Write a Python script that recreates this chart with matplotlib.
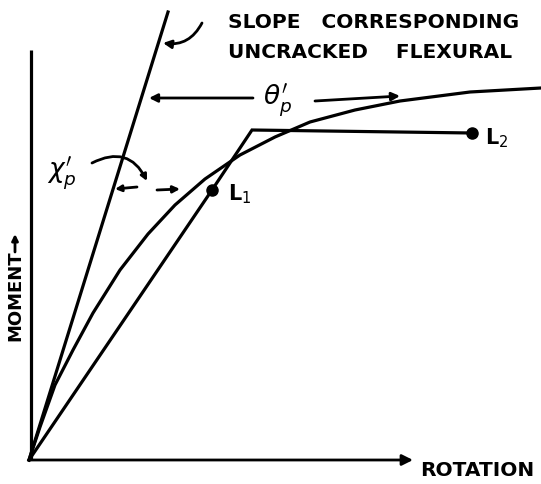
import numpy as np
import matplotlib.pyplot as plt
from matplotlib.patches import FancyArrowPatch

# rotation / moment in arbitrary units (sketch)
steep_rot = [0.0, 1.39]
steep_mom = [0.0, 4.48]

curve_rot = [0.0, 0.11, 0.26, 0.44, 0.64, 0.91, 1.19, 1.46, 1.76, 2.11,
             2.46, 2.81, 3.26, 3.71, 4.41, 5.12]
curve_mom = [0.0, 0.33, 0.75, 1.10, 1.47, 1.90, 2.26, 2.55, 2.81, 3.05,
             3.23, 3.38, 3.50, 3.59, 3.68, 3.72]

bilin_rot = [0.0, 1.83, 2.23, 4.43]
bilin_mom = [0.0, 2.70, 3.30, 3.27]

points_rot = [1.83, 4.43]
points_mom = [2.70, 3.27]
point_labels = ["L$_1$", "L$_2$"]

INK = "black"
LW = 2.3
FONT = dict(fontfamily="DejaVu Sans", fontweight="bold", color=INK)


def arrow(ax, start, end, rad=0.0, head=12):
    a = FancyArrowPatch(start, end, arrowstyle="-|>", mutation_scale=head,
                        connectionstyle=f"arc3,rad={rad}", lw=LW - 0.3,
                        color=INK, shrinkA=0, shrinkB=0)
    ax.add_patch(a)


fig = plt.figure(figsize=(5.41, 4.84), dpi=100)
ax = fig.add_axes([0, 0, 1, 1])
ax.set_xlim(-0.29, 5.12)
ax.set_ylim(-0.24, 4.60)
ax.axis("off")

# axes
ax.plot([0.02, 0.02], [0, 4.10], color=INK, lw=LW, solid_capstyle="butt")
arrow(ax, (0, 0), (3.84, 0), head=16)

# curves
ax.plot(steep_rot, steep_mom, color=INK, lw=LW)
ax.plot(curve_rot, curve_mom, color=INK, lw=LW, solid_joinstyle="round")
ax.plot(bilin_rot, bilin_mom, color=INK, lw=LW, solid_joinstyle="miter")
ax.plot(points_rot, points_mom, "o", color=INK, ms=8)

ax.text(1.99, 2.66, point_labels[0], fontsize=15, va="center", ha="left", **FONT)
ax.text(4.56, 3.22, point_labels[1], fontsize=15, va="center", ha="left", **FONT)

# axis labels
ax.text(3.91, -0.10, "ROTATION", fontsize=14.5, va="center", ha="left", **FONT)
ax.text(-0.14, 1.64, "MOMENT", fontsize=13, rotation=90, va="center", ha="center", **FONT)
arrow(ax, (-0.14, 2.08), (-0.14, 2.26), head=9)

# slope annotation
ax.text(1.99, 4.37, "SLOPE   CORRESPONDING", fontsize=14.5, va="center", ha="left", **FONT)
ax.text(1.99, 4.08, "UNCRACKED    FLEXURAL", fontsize=14.5, va="center", ha="left", **FONT)
arrow(ax, (1.73, 4.37), (1.34, 4.17), rad=-0.35)

# theta'_p
arrow(ax, (2.24, 3.62), (1.20, 3.62))
ax.text(2.49, 3.60, r"$\theta_p^{\prime}$", fontsize=19, va="center", ha="center", color=INK)
arrow(ax, (2.86, 3.59), (3.71, 3.64))

# chi'_p
ax.text(0.33, 2.87, r"$\chi_p^{\prime}$", fontsize=19, va="center", ha="center", color=INK)
arrow(ax, (0.63, 2.97), (1.18, 2.79), rad=-0.5, head=9)
arrow(ax, (1.08, 2.73), (0.86, 2.71), head=9)
arrow(ax, (1.28, 2.70), (1.51, 2.71), head=10)

fig.savefig("out.png", dpi=100, facecolor="white")
